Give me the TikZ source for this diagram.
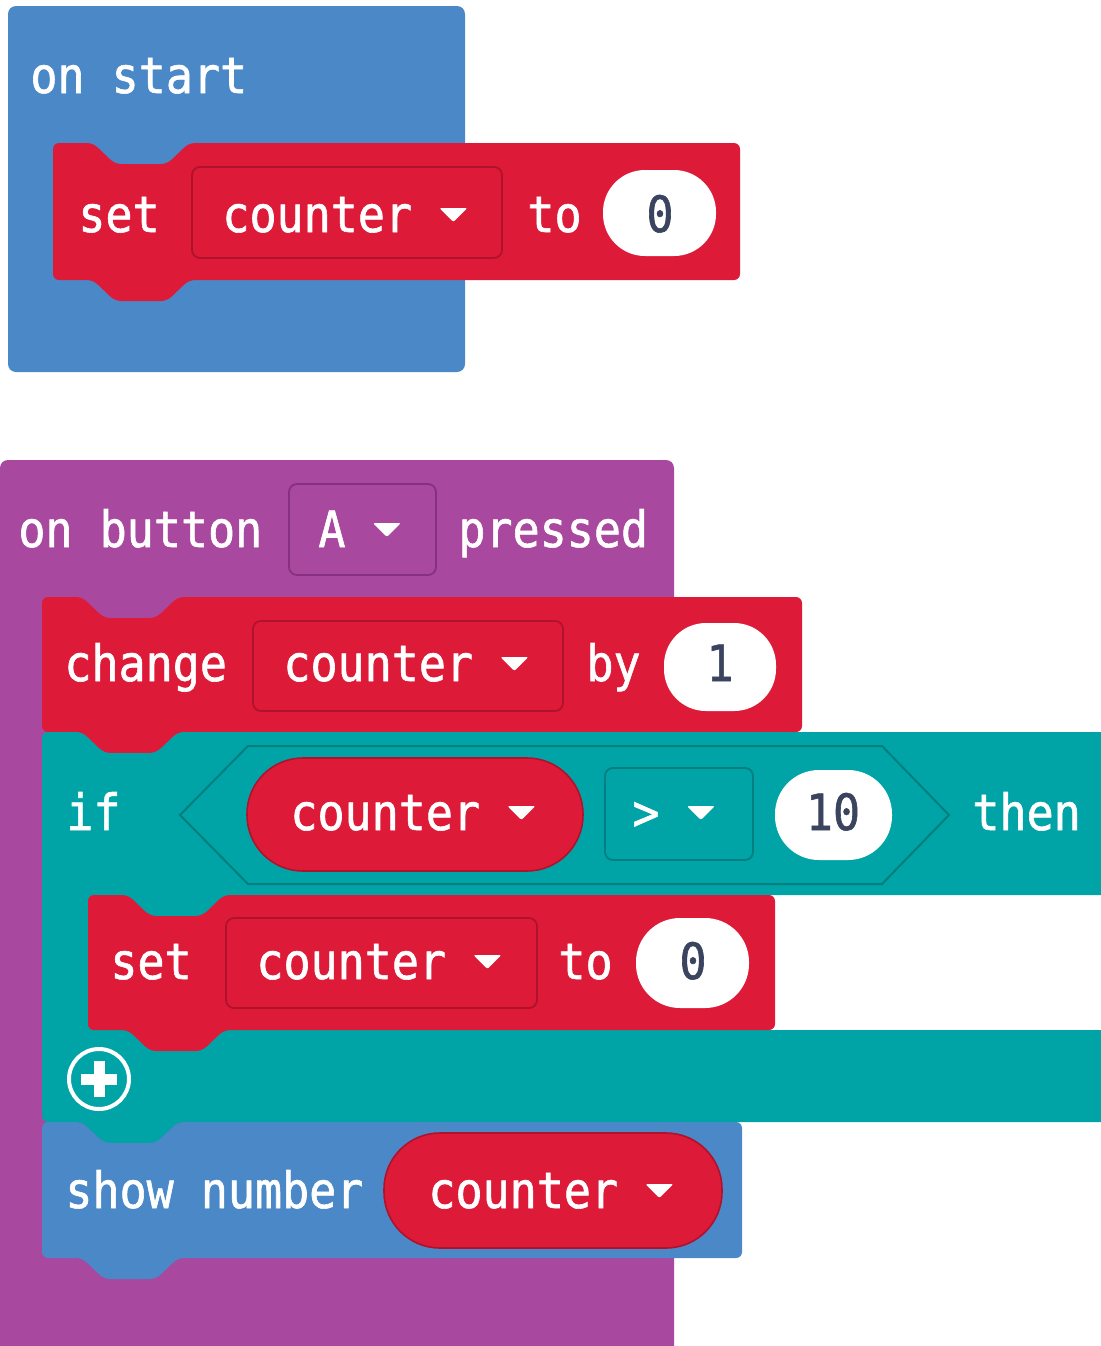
\documentclass[tikz,border=0pt]{standalone}
\usepackage{fontspec}
\usetikzlibrary{calc}

\newfontfamily\mcfont{DejaVu Sans Mono}[FakeStretch=0.9, FakeBold=1.2]
\newcommand{\blockfont}{\mcfont\fontsize{25}{30}\selectfont}

\definecolor{blockblue}{RGB}{74,136,200}
\definecolor{varred}{RGB}{221,27,56}
\definecolor{darkred}{RGB}{176,18,44}
\definecolor{btnpurple}{RGB}{168,72,158}
\definecolor{darkpurple}{RGB}{136,48,128}
\definecolor{logicteal}{RGB}{0,164,166}
\definecolor{darkteal}{RGB}{0,126,128}
\definecolor{numslate}{RGB}{58,68,94}

% statement block: colour, left, top, right, bottom (notch on top, tab below)
\newcommand{\stmtblock}[5]{%
  \fill[#1, rounded corners=3pt] (#2,#3) -- ({#2+40},#3) -- ({#2+62},{#3+21})
    -- ({#2+114},{#3+21}) -- ({#2+136},#3) -- (#4,#3) -- (#4,#5)
    -- ({#2+136},#5) -- ({#2+114},{#5+21}) -- ({#2+62},{#5+21})
    -- ({#2+40},#5) -- (#2,#5) -- cycle;}
% little dropdown triangle after a label
\newcommand{\droparrow}[1]{%
  \fill[white, rounded corners=1pt] ($(#1.base east)+(27,-24)$) -- ++(28,0) -- ++(-14,14) -- cycle;}

\begin{document}
\begin{tikzpicture}[x=0.5pt, y=-0.5pt,
    lbl/.style={font=\blockfont, text=white, inner sep=0pt, anchor=base west},
    num/.style={font=\blockfont, text=numslate, inner sep=0pt, anchor=base},
    dropbox/.style={draw=#1, line width=0.9pt, rounded corners=4pt}]
  \path[use as bounding box] (0,0) rectangle (1101,1346);
  \clip (0,0) rectangle (1101,1346);
  \fill[white] (0,0) rectangle (1101,1346);

  % on start
  \fill[blockblue, rounded corners=4pt] (8,6) rectangle (465,372);
  \node[lbl] (onstart) at (30,93) {on start};
  \stmtblock{varred}{53}{143}{740}{280}
  \draw[dropbox=darkred] (192,167) rectangle (502,258);
  \fill[white, rounded corners=21pt] (603,170) rectangle (716,256);
  \node[lbl] (set1) at (78,232) {set};
  \node[lbl] (var1) at (222,232) {counter};
  \droparrow{var1}
  \node[lbl] (to1) at (527,232) {to};
  \node[num] (val1) at (660,232) {0};

  % on button A pressed
  \fill[btnpurple, rounded corners=4pt] (0,460) rectangle (674,1380);
  \draw[dropbox=darkpurple] (289,484) rectangle (436,575);
  \node[lbl] (onbtn) at (18,547) {on button};
  \node[lbl] (btn) at (318,547) {A};
  \droparrow{btn}
  \node[lbl] (pressed) at (458,547) {pressed};

  \stmtblock{varred}{42}{597}{802}{732}
  \draw[dropbox=darkred] (253,621) rectangle (563,711);
  \fill[white, rounded corners=21pt] (664,623) rectangle (776,711);
  \node[lbl] (change) at (64,681) {change};
  \node[lbl] (var2) at (283,681) {counter};
  \droparrow{var2}
  \node[lbl] (by) at (586,681) {by};
  \node[num] (val2) at (720,681) {1};

  % if ... then
  \fill[logicteal, rounded corners=3pt] (42,732) -- (82,732) -- (104,753) -- (156,753)
    -- (178,732) -- (1120,732) -- (1120,895) -- (224,895) -- (202,916) -- (150,916)
    -- (128,895) -- (88,895) -- (88,1030) -- (1120,1030) -- (1120,1122) -- (178,1122)
    -- (156,1143) -- (104,1143) -- (82,1122) -- (42,1122) -- cycle;
  \draw[darkteal, line width=1pt] (180,815) -- (248,746) -- (882,746) -- (949,815)
    -- (882,884) -- (248,884) -- cycle;
  \draw[darkred, fill=varred, line width=0.8pt, rounded corners=28pt] (247,758) rectangle (583,871);
  \draw[dropbox=darkteal] (605,768) rectangle (753,860);
  \fill[white, rounded corners=22pt] (775,770) rectangle (892,860);
  \node[lbl] (if) at (66,830) {if};
  \node[lbl] (var3) at (290,830) {counter};
  \droparrow{var3}
  \node[lbl] (gt) at (632,830) {>};
  \droparrow{gt}
  \node[num] (val3) at (833,830) {10};
  \node[lbl] (then) at (972,830) {then};

  \stmtblock{varred}{88}{895}{775}{1030}
  \draw[dropbox=darkred] (226,918) rectangle (537,1008);
  \fill[white, rounded corners=22pt] (636,918) rectangle (749,1008);
  \node[lbl] (set2) at (110,979) {set};
  \node[lbl] (var4) at (256,979) {counter};
  \droparrow{var4}
  \node[lbl] (to2) at (558,979) {to};
  \node[num] (val4) at (693,979) {0};

  \node[circle, draw=white, line width=2pt, minimum size=30pt, inner sep=0pt] (addbtn) at (99,1079) {};
  \draw[white, line width=5.5pt] ($(addbtn.center)+(-18,0)$) -- ($(addbtn.center)+(18,0)$);
  \draw[white, line width=5.5pt] ($(addbtn.center)+(0,-18)$) -- ($(addbtn.center)+(0,18)$);

  % show number
  \stmtblock{blockblue}{42}{1122}{742}{1258}
  \draw[darkred, fill=varred, line width=0.8pt, rounded corners=28pt] (384,1133) rectangle (722,1248);
  \node[lbl] (show) at (65,1208) {show number};
  \node[lbl] (var5) at (428,1208) {counter};
  \droparrow{var5}
\end{tikzpicture}
\end{document}
